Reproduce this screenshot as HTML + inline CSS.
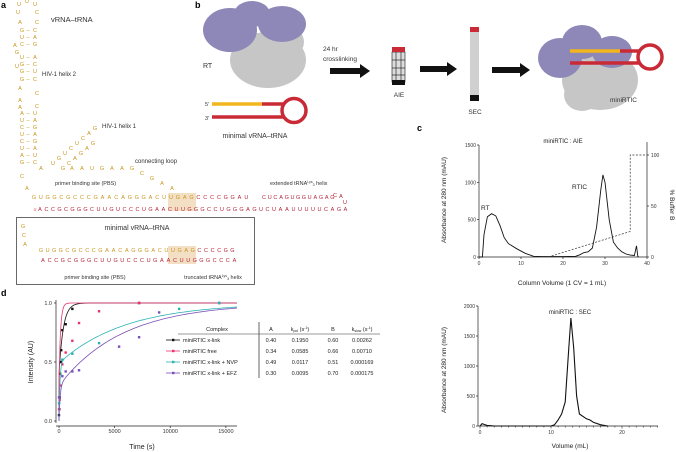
<!DOCTYPE html>
<html><head><meta charset="utf-8"><style>
html,body{margin:0;padding:0;background:#fff;}
svg{display:block;font-family:"Liberation Sans",sans-serif;}
</style></head><body>
<svg id="fig" width="676" height="452" viewBox="0 0 676 452">
<g id="panelA">
<text x="1" y="8" font-size="9" font-weight="bold">a</text>
<text x="51" y="22" font-size="7.5" fill="#333">vRNA–tRNA</text>
<text x="42" y="76" font-size="6" fill="#333">HIV-1 helix 2</text>
<text x="102" y="128" font-size="6" fill="#333">HIV-1 helix 1</text>
<text x="135" y="163" font-size="6" fill="#333">connecting loop</text>
<text x="55" y="185" font-size="5.5" fill="#333">primer binding site (PBS)</text>
<text x="270" y="185" font-size="5.5" fill="#333">extended tRNA<tspan font-size="3.5" dy="-2">Lys</tspan><tspan font-size="3.5" dy="3">3</tspan><tspan dy="-1"> helix</tspan></text>
<g id="stem" font-size="5.5" fill="#c8961e" text-anchor="middle"></g>
<g id="duplex" font-size="5.5" text-anchor="middle"></g>
<rect x="16.5" y="217.5" width="238" height="67" fill="none" stroke="#444" stroke-width="0.8"/>
<text x="137" y="230" font-size="7" fill="#333" text-anchor="middle">minimal vRNA–tRNA</text>
<text x="95" y="279" font-size="5.5" fill="#333" text-anchor="middle">primer binding site (PBS)</text>
<text x="213" y="279" font-size="5.5" fill="#333" text-anchor="middle">truncated tRNA<tspan font-size="3.5" dy="-2">Lys</tspan><tspan font-size="3.5" dy="3">3</tspan><tspan dy="-1"> helix</tspan></text>
</g>
<g id="panelB">
<text x="195" y="8" font-size="9" font-weight="bold">b</text>
<g>
<ellipse cx="268" cy="60" rx="38" ry="28" fill="#c6c6c6"/>
<ellipse cx="282" cy="42" rx="22" ry="18" fill="#c6c6c6"/>
<ellipse cx="230" cy="30" rx="27" ry="22" fill="#8e88b8"/>
<ellipse cx="282" cy="24" rx="24" ry="18" fill="#8e88b8"/>
<ellipse cx="252" cy="14" rx="18" ry="13" fill="#8e88b8"/>
</g>
<text x="203" y="68" font-size="7" fill="#333">RT</text>
<g>
<line x1="212" y1="104" x2="262" y2="104" stroke="#f2b51e" stroke-width="3.5"/>
<line x1="262" y1="104" x2="285" y2="104" stroke="#c92a36" stroke-width="3.5"/>
<line x1="212" y1="117" x2="285" y2="117" stroke="#c92a36" stroke-width="3.5"/>
<circle cx="294" cy="110.5" r="12" fill="none" stroke="#c92a36" stroke-width="3.5"/>
</g>
<text x="205" y="106" font-size="5.5" fill="#333">5'</text>
<text x="205" y="120" font-size="5.5" fill="#333">3'</text>
<text x="255" y="138" font-size="7" fill="#333" text-anchor="middle">minimal vRNA–tRNA</text>
<text x="323" y="51" font-size="6.5" fill="#333">24 hr</text>
<text x="323" y="61" font-size="6.5" fill="#333">crosslinking</text>
<g fill="#111">
<polygon points="330,68 360,68 360,64 370,71 360,78 360,74 330,74"/>
<polygon points="420,66 447,66 447,62 457,69 447,76 447,72 420,72"/>
<polygon points="492,67 520,67 520,63 530,70 520,77 520,73 492,73"/>
</g>
<g>
<rect x="392" y="52" width="13" height="30" fill="#ddd" stroke="#111" stroke-width="0.6"/>
<line x1="392" y1="60" x2="405" y2="60" stroke="#111" stroke-width="0.6"/>
<line x1="392" y1="68" x2="405" y2="68" stroke="#111" stroke-width="0.6"/>
<line x1="392" y1="75" x2="405" y2="75" stroke="#111" stroke-width="0.6"/>
<line x1="396" y1="52" x2="396" y2="82" stroke="#111" stroke-width="0.6"/>
<line x1="401" y1="52" x2="401" y2="82" stroke="#111" stroke-width="0.6"/>
<rect x="392" y="47" width="13" height="5" fill="#c92a36"/>
<rect x="392" y="80" width="13" height="5" fill="#111"/>
</g>
<text x="399" y="97" font-size="6.5" fill="#333" text-anchor="middle">AIE</text>
<g>
<rect x="470" y="27" width="9" height="73" fill="#d0d0d0"/>
<rect x="470" y="27" width="9" height="5" fill="#c92a36"/>
<rect x="470" y="95" width="9" height="6" fill="#111"/>
</g>
<text x="475" y="114" font-size="6.5" fill="#333" text-anchor="middle">SEC</text>
<g>
<ellipse cx="600" cy="80" rx="38" ry="30" fill="#c6c6c6"/>
<ellipse cx="582" cy="95" rx="18" ry="16" fill="#c6c6c6"/>
<ellipse cx="560" cy="58" rx="22" ry="20" fill="#8e88b8"/>
<ellipse cx="582" cy="42" rx="20" ry="17" fill="#8e88b8"/>
<ellipse cx="612" cy="52" rx="20" ry="16" fill="#8e88b8"/>
<line x1="570" y1="51" x2="620" y2="51" stroke="#f2b51e" stroke-width="3.5"/>
<line x1="620" y1="51" x2="640" y2="51" stroke="#c92a36" stroke-width="3.5"/>
<line x1="570" y1="63" x2="640" y2="63" stroke="#c92a36" stroke-width="3.5"/>
<circle cx="650" cy="57" r="12" fill="none" stroke="#c92a36" stroke-width="3.5"/>
</g>
<text x="610" y="102" font-size="6.5" fill="#333">miniRTIC</text>
</g>
<g id="panelC">
<text x="417" y="131" font-size="9" font-weight="bold">c</text>
</g>
<g id="panelD">
<text x="1" y="296" font-size="9" font-weight="bold">d</text>
</g>
</svg>
<script>
// ---------- Kinetics (panel d) data ----------
const kinSeries = ["miniRTIC x-link","miniRTIC free","miniRTIC x-link + NVP","miniRTIC x-link + EFZ"];
const kinColors = ["#111111","#e8336f","#2bb3b3","#7b4fb8"];
const kinA = [0.40,0.34,0.49,0.30];
const kinKpol = [0.1950,0.0585,0.0117,0.0095];
const kinB = [0.60,0.66,0.51,0.70];
const kinKslow = [0.00262,0.00710,0.000169,0.000175];
const kinALabels = ["0.40","0.34","0.49","0.30"];
const kinKpolLabels = ["0.1950","0.0585","0.0117","0.0095"];
const kinBLabels = ["0.60","0.66","0.51","0.70"];
const kinKslowLabels = ["0.00262","0.00710","0.000169","0.000175"];
const blackT = [0,30,60,100,150,200,300,600,1200,7200,14400];
const blackY = [0.05,0.1,0.2,0.4,0.5,0.6,0.77,0.82,0.95,1.0,1.0];
const pinkT = [0,60,120,300,600,1200,1800,3600,7200];
const pinkY = [0.1,0.18,0.3,0.48,0.58,0.68,0.83,0.93,1.0];
const cyanT = [0,300,1200,3600,10800,14400];
const cyanY = [0.15,0.52,0.57,0.66,0.95,1.0];
const purpleT = [0,300,600,1200,1800,5400,7200,9000];
const purpleY = [0.2,0.38,0.42,0.42,0.43,0.63,0.71,0.92];
const kinXTicks = [0,5000,10000,15000];
const kinYTicks = [0.0,0.5,1.0];
// ---------- AIE (panel c) data ----------
const aieCV = [0,0.8,1.2,2,3,4,5,6,7,9,11,13,15,17,20,23,24,25,26,27,28,29,29.5,30,31,32,33,34,35,36,37,37.5,37.8,38];
const aieMAU = [0,0,300,540,580,550,420,260,180,110,50,10,5,5,5,10,30,60,70,120,400,900,1100,1000,500,200,120,70,40,25,20,150,10,0];
const bufCV = [16.5,36,36,40];
const bufPct = [0,25,100,100];
const aieXTicks = [0,10,20,30,40];
const aieYTicks = [0,500,1000,1500];
const aieRTicks = [0,50,100];
// ---------- SEC (panel c) data ----------
const secML = [0,0.3,0.6,1,1.5,2,10,10.5,11,11.5,12,12.5,12.8,13.2,13.6,14,15,15.5,16,17,18];
const secMAU = [0,40,25,10,5,0,0,20,100,200,400,1300,1800,1300,500,200,120,100,60,20,0];
const secXTicks = [0,10,20];
const secYTicks = [0,500,1000,1500,2000];

const NS="http://www.w3.org/2000/svg";
function mk(tag,attrs,parent){const e=document.createElementNS(NS,tag);for(const k in attrs)e.setAttribute(k,attrs[k]);parent.appendChild(e);return e;}
function txt(s,attrs,parent){const e=mk("text",attrs,parent);e.textContent=s;return e;}

// ---- panel a letters ----
const stem=document.getElementById("stem");
const stemPairs=[[32,"G","C"],[39,"U","A"],[46,"C","G"],[59,"U","A"],[66,"G","C"],[73,"G","U"],[81,"G","C"],[115,"A","U"],[122,"U","A"],[129,"C","G"],[136,"U","A"],[143,"C","G"],[150,"U","A"],[157,"A","U"],[164,"G","C"]];
stemPairs.forEach(p=>{txt(p[1],{x:22,y:p[0]},stem);txt("–",{x:28,y:p[0]},stem);txt(p[2],{x:35,y:p[0]},stem);});
const stemSingles=[[19,6,"U"],[27,3,"U"],[35,6,"U"],[18,14,"U"],[37,14,"C"],[20,24,"A"],[37,24,"C"],[15,47,"A"],[17,54,"G"],[17,68,"U"],[20,90,"A"],[37,95,"C"],[20,102,"A"],[37,108,"C"],[20,109,"A"],[22,178,"C"],[27,190,"A"],[41,170,"A"]];
stemSingles.forEach(s=>txt(s[2],{x:s[0],y:s[1]},stem));
const h1=["U","G","U","C","U","C","A","G"];
h1.forEach((c,i)=>{txt(c,{x:53+i*6,y:165-i*5},stem);});
const h1b=["G","C","A","G","A","G"];
h1b.forEach((c,i)=>{txt(c,{x:63+i*6,y:170-i*5},stem);});
const loop=["A","A","U","G","A","A","G","C","G","A","A"];
loop.forEach((c,i)=>{txt(c,{x:72+i*10,y:170+(i>6?(i-6)*5:0)},stem);});
const dup=document.getElementById("duplex");
const topSeq="GUGGCGCCCGAACAGGGACUUGAGCCCCGGAU";
const botSeq="ACCGCGGGCUUGUCCCUGAACUUGGGCCUGGGAGUCUAAUUUUUCAGA";
mk("rect",{x:168,y:193,width:28,height:18,fill:"#f3dfc4"},dup);
mk("rect",{x:168,y:246,width:28,height:18,fill:"#f3dfc4"},dup);
for(let i=0;i<topSeq.length;i++){const col=i<24?"#c8961e":"#b5263a";txt(topSeq[i],{x:34+i*6.85,y:199,fill:col},dup);}
const top2="CUCAGUGGUAGAG";
for(let i=0;i<top2.length;i++){txt(top2[i],{x:264+i*5.7,y:199,fill:"#b5263a"},dup);}
txt("C",{x:335,y:197,fill:"#b5263a"},dup);txt("A",{x:341,y:198,fill:"#b5263a"},dup);txt("U",{x:345,y:204,fill:"#b5263a"},dup);
for(let i=0;i<botSeq.length;i++){txt(botSeq[i],{x:40+i*6.5,y:211,fill:"#b5263a"},dup);}
txt("3'",{x:35,y:211,fill:"#b5263a","font-size":4},dup);
const mTop="GUGGCGCCCGAACAGGGACUUGAGCCCCGG";
const mBot="ACCGCGGGCUUGUCCCUGAACUUGGGCCCA";
for(let i=0;i<mTop.length;i++){txt(mTop[i],{x:41+i*6.6,y:252,fill:i<24?"#c8961e":"#b5263a"},dup);}
for(let i=0;i<mBot.length;i++){txt(mBot[i],{x:43+i*6.6,y:262,fill:"#b5263a"},dup);}
txt("G",{x:23,y:228,fill:"#c8961e"},dup);txt("C",{x:24,y:237,fill:"#c8961e"},dup);txt("A",{x:25,y:246,fill:"#c8961e"},dup);

// ---- panel d ----
const pd=document.getElementById("panelD");
const dx0=59,dx1=237,dyT=303,dyB=421,dTmax=16000;
const dX=t=>dx0+(t/dTmax)*(dx1-dx0);
const dY=v=>dyB-v*(dyB-dyT);
mk("line",{x1:dx0-3,y1:dyT-3,x2:dx0-3,y2:dyB+2,stroke:"#222","stroke-width":0.7},pd);
mk("line",{x1:dx0-3,y1:426,x2:dx1,y2:426,stroke:"#222","stroke-width":0.7},pd);
kinYTicks.forEach(v=>{mk("line",{x1:dx0-5,y1:dY(v),x2:dx0-3,y2:dY(v),stroke:"#222","stroke-width":0.7},pd);
 const l=txt(v.toFixed(1),{x:dx0-7,y:dY(v)+2,"font-size":5.5,"text-anchor":"end",fill:"#333"},pd);
 
 });
kinXTicks.forEach(v=>{mk("line",{x1:dX(v),y1:426,x2:dX(v),y2:428,stroke:"#222","stroke-width":0.7},pd);
 const l=txt(String(v),{x:dX(v),y:433,"font-size":5.5,"text-anchor":"middle",fill:"#333"},pd);
 
 });
let t1=txt("Time (s)",{x:142,y:449,"font-size":7,"text-anchor":"middle",fill:"#222"},pd);


let t2=txt("Intensity (AU)",{x:0,y:0,"font-size":7,"text-anchor":"middle",fill:"#222",transform:"translate(33,362) rotate(-90)"},pd);


const ptsT=[blackT,pinkT,cyanT,purpleT],ptsY=[blackY,pinkY,cyanY,purpleY];
for(let s=0;s<4;s++){
 let d="";
 for(let t=0;t<=dTmax;t+= (t<2000?20:200)){const v=kinA[s]*(1-Math.exp(-kinKpol[s]*t))+kinB[s]*(1-Math.exp(-kinKslow[s]*t));d+=(d?"L":"M")+dX(t).toFixed(1)+","+dY(v).toFixed(1);}
 const p=mk("path",{d:d,fill:"none",stroke:kinColors[s],"stroke-width":0.8},pd);
 
 
 ptsT[s].forEach((t,i)=>{const c=mk("rect",{x:dX(t)-1.2,y:dY(ptsY[s][i])-1.2,width:2.4,height:2.4,fill:kinColors[s]},pd);
  
  });
}
const tb=mk("g",{"font-size":5.5,fill:"#222"},pd);


txt("Complex",{x:217,y:331,"text-anchor":"middle"},tb);
txt("A",{x:271,y:331,"text-anchor":"middle"},tb);
const kp=txt("k",{x:300,y:331,"text-anchor":"middle"},tb);kp.innerHTML='k<tspan font-size="3.5" dy="1">pol</tspan><tspan dy="-1"> (s</tspan><tspan font-size="3.5" dy="-2">-1</tspan><tspan dy="2">)</tspan>';
txt("B",{x:333,y:331,"text-anchor":"middle"},tb);
const ks=txt("k",{x:362,y:331,"text-anchor":"middle"},tb);ks.innerHTML='k<tspan font-size="3.5" dy="1">slow</tspan><tspan dy="-1"> (s</tspan><tspan font-size="3.5" dy="-2">-1</tspan><tspan dy="2">)</tspan>';
mk("line",{x1:178,y1:334,x2:380,y2:334,stroke:"#333","stroke-width":0.6},tb);
mk("line",{x1:259,y1:322,x2:259,y2:378,stroke:"#555","stroke-width":0.9},tb);
for(let s=0;s<4;s++){const y=342+s*11;
 mk("line",{x1:166,y1:y-2,x2:180,y2:y-2,stroke:kinColors[s],"stroke-width":0.8},tb);
 mk("rect",{x:172,y:y-3.2,width:2.4,height:2.4,fill:kinColors[s]},tb);
 txt(kinSeries[s],{x:183,y:y},tb);
 txt(kinALabels[s],{x:271,y:y,"text-anchor":"middle"},tb);
 txt(kinKpolLabels[s],{x:300,y:y,"text-anchor":"middle"},tb);
 txt(kinBLabels[s],{x:333,y:y,"text-anchor":"middle"},tb);
 txt(kinKslowLabels[s],{x:362,y:y,"text-anchor":"middle"},tb);}

// ---- panel c AIE ----
const pc=document.getElementById("panelC");
const ax0=479,ax1=647,ayT=145,ayB=257;
const aX=v=>ax0+v/40*(ax1-ax0), aY=v=>ayB-v/1500*(ayB-ayT), aR=v=>ayB-v/100*(ayB-155);
mk("line",{x1:ax0,y1:ayT,x2:ax0,y2:ayB,stroke:"#222","stroke-width":0.7},pc);
mk("line",{x1:ax0,y1:ayB,x2:ax1,y2:ayB,stroke:"#222","stroke-width":0.7},pc);
mk("line",{x1:ax1,y1:ayT-3,x2:ax1,y2:ayB,stroke:"#222","stroke-width":0.7},pc);
aieYTicks.forEach(v=>{mk("line",{x1:ax0-2,y1:aY(v),x2:ax0,y2:aY(v),stroke:"#222","stroke-width":0.7},pc);txt(String(v),{x:ax0-3,y:aY(v)+2,"font-size":5,"text-anchor":"end",fill:"#333"},pc);});
aieXTicks.forEach(v=>{mk("line",{x1:aX(v),y1:ayB,x2:aX(v),y2:ayB+2,stroke:"#222","stroke-width":0.7},pc);txt(String(v),{x:aX(v),y:ayB+8,"font-size":5,"text-anchor":"middle",fill:"#333"},pc);});
aieRTicks.forEach(v=>{mk("line",{x1:ax1,y1:aR(v),x2:ax1+2,y2:aR(v),stroke:"#222","stroke-width":0.7},pc);txt(String(v),{x:ax1+4,y:aR(v)+2,"font-size":5,fill:"#333"},pc);});
let ad="";aieCV.forEach((v,i)=>{ad+=(i?"L":"M")+aX(v).toFixed(1)+","+aY(aieMAU[i]).toFixed(1);});
let ap=mk("path",{d:ad,fill:"none",stroke:"#111","stroke-width":0.9},pc);


let bd="";bufCV.forEach((v,i)=>{bd+=(i?"L":"M")+aX(v).toFixed(1)+","+aR(bufPct[i]).toFixed(1);});
let bp=mk("path",{d:bd,fill:"none",stroke:"#333","stroke-width":0.7,"stroke-dasharray":"2,1.5"},pc);


txt("miniRTIC : AIE",{x:563,y:143,"font-size":6,"text-anchor":"middle",fill:"#222"},pc);
txt("RT",{x:481,y:210,"font-size":6.5,fill:"#222"},pc);
txt("RTIC",{x:572,y:189,"font-size":6.5,fill:"#222"},pc);
txt("Column Volume (1 CV = 1 mL)",{x:562,y:285,"font-size":6.5,"text-anchor":"middle",fill:"#222"},pc);
txt("Absorbance at 280 nm (mAU)",{x:0,y:0,"font-size":6.5,"text-anchor":"middle",fill:"#222",transform:"translate(446,200) rotate(-90)"},pc);
txt("% Buffer B",{x:0,y:0,"font-size":6.5,"text-anchor":"middle",fill:"#222",transform:"translate(670,205) rotate(90)"},pc);
const sx0=480,sx1=658,syT=306,syB=426;
const sX=v=>sx0+v/10*(551-sx0), sY=v=>syB-v/2000*(syB-syT);
mk("line",{x1:sx0-2,y1:syT,x2:sx0-2,y2:syB,stroke:"#222","stroke-width":0.7},pc);
mk("line",{x1:sx0-2,y1:syB,x2:sx1,y2:syB,stroke:"#222","stroke-width":0.7},pc);
secYTicks.forEach(v=>{mk("line",{x1:sx0-4,y1:sY(v),x2:sx0-2,y2:sY(v),stroke:"#222","stroke-width":0.7},pc);txt(String(v),{x:sx0-5,y:sY(v)+2,"font-size":5,"text-anchor":"end",fill:"#333"},pc);});
for(let v=0;v<=25;v++){mk("line",{x1:sX(v),y1:syB,x2:sX(v),y2:syB+(v%10==0?2.5:1.5),stroke:"#222","stroke-width":0.6},pc);}
secXTicks.forEach(v=>{txt(String(v),{x:sX(v),y:syB+8,"font-size":5,"text-anchor":"middle",fill:"#333"},pc);});
let sd="";secML.forEach((v,i)=>{sd+=(i?"L":"M")+sX(v).toFixed(1)+","+sY(secMAU[i]).toFixed(1);});
let sp=mk("path",{d:sd,fill:"none",stroke:"#111","stroke-width":1.1},pc);


txt("miniRTIC : SEC",{x:570,y:314,"font-size":6,"text-anchor":"middle",fill:"#222"},pc);
txt("Volume (mL)",{x:570,y:448,"font-size":6.5,"text-anchor":"middle",fill:"#222"},pc);
txt("Absorbance at 280 nm (mAU)",{x:0,y:0,"font-size":6.5,"text-anchor":"middle",fill:"#222",transform:"translate(446,370) rotate(-90)"},pc);
</script>
</body></html>
